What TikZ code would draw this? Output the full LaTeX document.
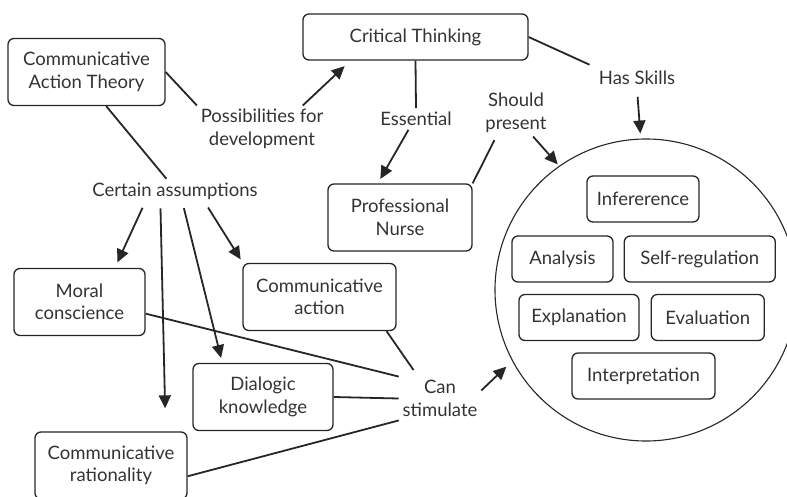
\documentclass[tikz,border=0pt]{standalone}
\usepackage{fontspec}
\setmainfont{Lato}
\usetikzlibrary{positioning, arrows.meta}

\begin{document}
\begin{tikzpicture}[x=1pt, y=-1pt, line width=1.8pt, draw=black!85,
  every node/.style={align=center, text=black!80, font=\fontsize{18.5}{22.5}\selectfont},
  box/.style={draw, rounded corners=6pt, line width=1.3pt, minimum height=46pt},
  tallbox/.style={box, minimum height=67pt},
  lbl/.style={inner sep=3pt},
  link/.style={-{Triangle[length=13pt, width=12pt]}}]
        \path[use as bounding box, clip] (0,0) rectangle (787,497);

        \node[tallbox, minimum width=157pt] (cat) at (86.5,72) {Communicative\\Action Theory};
        \node[box, minimum width=225pt] (ct) at (415.5,37) {Critical Thinking};
        \node[tallbox, minimum width=144pt] (nurse) at (400,217.5) {Professional\\Nurse};
        \node[tallbox, minimum width=131pt] (moral) at (79.5,302) {Moral\\conscience};
        \node[tallbox, minimum width=153pt] (action) at (319.5,297) {Communicative\\action};
        \node[tallbox, minimum width=140pt] (dialogic) at (263,397) {Dialogic\\knowledge};
        \node[tallbox, minimum width=152pt] (rational) at (111,465.5) {Communicative\\rationality};

        % Link words
        \node[lbl] (poss) at (262,129) {Possibilities for\\development};
        \node[lbl] (assume) at (175,191) {Certain assumptions};
        \node[lbl] (essential) at (416,119) {Essential};
        \node[lbl] (should) at (516,113) {Should\\present};
        \node[lbl] (has) at (637,78) {Has Skills};
        \node[lbl] (stim) at (440,398.5) {Can\\stimulate};

        % Skills circle, cut by the right edge
        \node[circle, draw, line width=1.1pt, minimum size=302pt] (skills) at (646,290) {};
        \node[box, minimum width=112pt] (infer) at (643,199) {Infererence};
        \node[box, minimum width=101pt] (analysis) at (562.5,259) {Analysis};
        \node[box, minimum width=151pt, right=10pt of analysis] (selfreg) {Self-regulation};
        \node[box, minimum width=120pt] (explain) at (579,317.5) {Explanation};
        \node[box, minimum width=113pt, right=11pt of explain] (evaluate) {Evaluation};
        \node[box, minimum width=143pt] (interpret) at (643.5,376) {Interpretation};

        \draw (cat.east) -- (poss.north west);
        \draw[link, shorten >=8pt] (poss.30) -- (ct.200);
        \draw (cat.300) -- (assume.125);

        \foreach \a/\b/\s in {202/moral.44/6pt, 220/rational.32/23pt, 302/dialogic.140/5pt, 338/action.156/4pt} {
            \draw[link, shorten <=5pt, shorten >=\s] (assume.\a) -- (\b);
        }

        \draw (ct.south) -- (essential.north);
        \draw[link, shorten >=5pt] (essential.235) -- (nurse.123);
        \draw[shorten >=6pt] (ct.east) -- (has.north west);
        \draw[link, shorten <=8pt, shorten >=5pt] (has.south) -- (skills.92);
        \draw[shorten >=4pt] (nurse.north east) -- (should.230);
        \draw[link, shorten >=2pt] (should.306) -- (skills.125);

        % Everything that can stimulate
        \draw (moral.350) -- (stim.north west);
        \draw[shorten >=8pt] (action.333) -- (stim.135);
        \draw (dialogic.east) -- (stim.west);
        \draw (rational.352) -- (stim.south west);
        \draw[link, shorten >=8pt] (stim.11) -- (skills.208);
    \end{tikzpicture}
\end{document}
